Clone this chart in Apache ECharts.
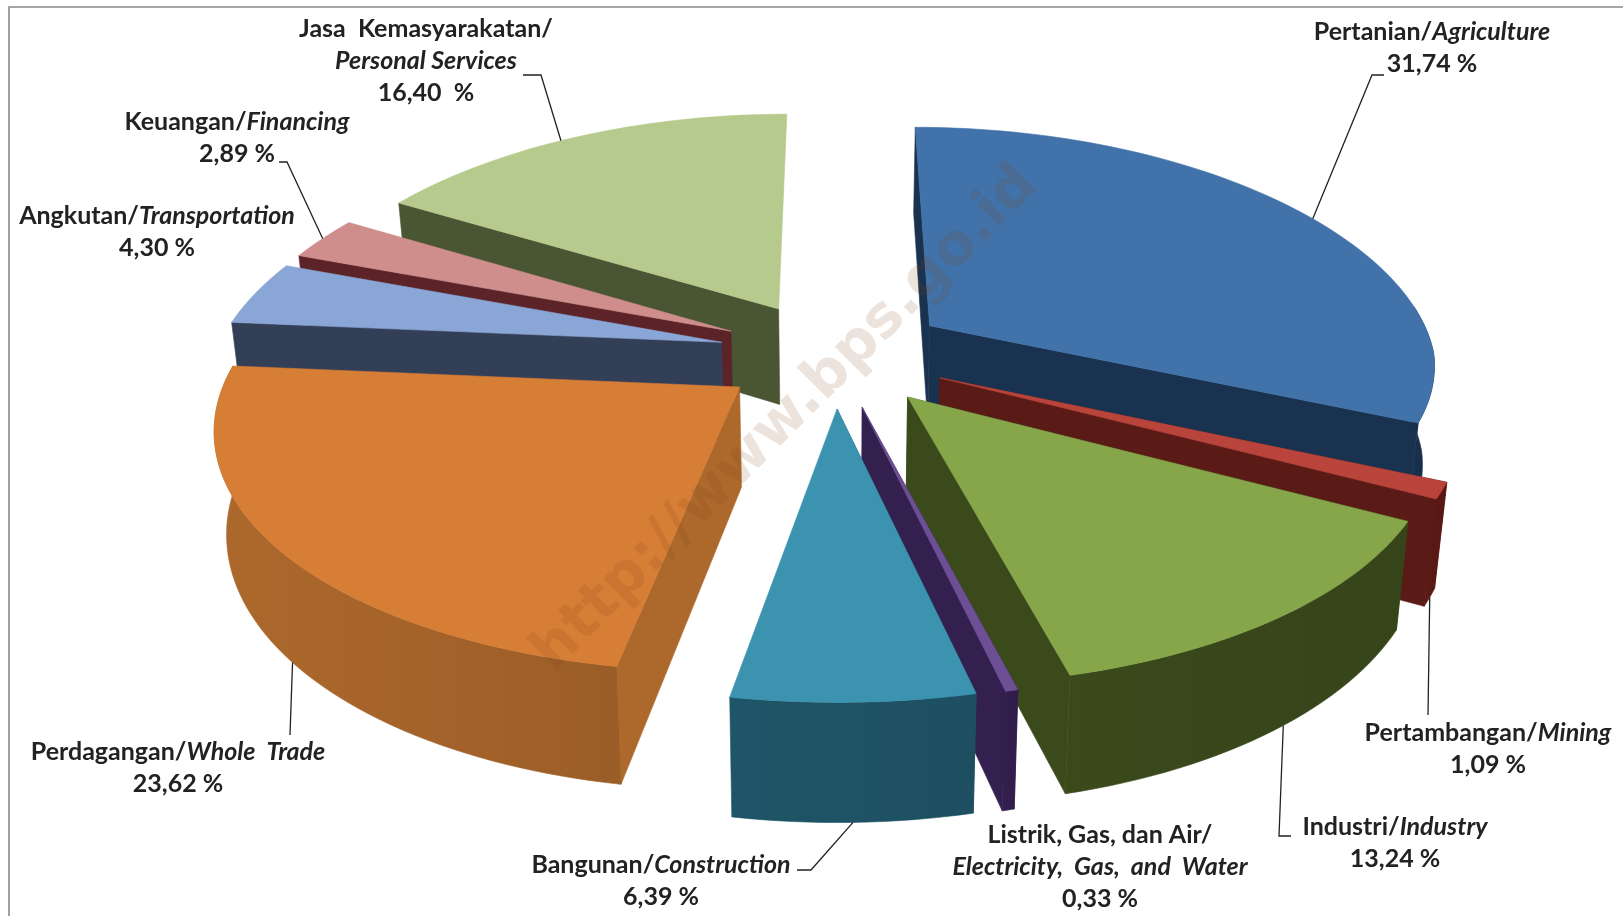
<!DOCTYPE html>
<html><head><meta charset="utf-8">
<style>html,body{margin:0;padding:0;background:#fff}#c{width:1623px;height:916px}</style>
<script src="https://cdn.jsdelivr.net/npm/echarts@6/dist/echarts.min.js"></script>
</head><body><div id="c"></div>
<script>
// ---- data
const sectorsId = ['Pertanian/','Pertambangan/','Industri/','Listrik, Gas, dan Air/','Bangunan/','Perdagangan/','Angkutan/','Keuangan/','Jasa  Kemasyarakatan/'];
const sectorsEn = ['Agriculture','Mining','Industry','Electricity,  Gas,  and  Water','Construction','Whole  Trade','Transportation','Financing','Personal Services'];
const shares = [31.74,1.09,13.24,0.33,6.39,23.62,4.30,2.89,16.40];
const shareLabels = ['31,74 %','1,09 %','13,24 %','0,33 %','6,39 %','23,62 %','4,30 %','2,89 %','16,40  %'];
// ---- styles
const topColors = ['#4172a9','#b8443c','#87a64a','#6d4f95','#3b93b0','#d67e36','#8aa6d6','#cf8e8c','#b5ca8c'];
const wallColors = ['#19324f','#5a1a15','#3b4a1b','#33204f','#1f5568','#ad692c','#333f57','#5c2329','#4a5633'];
const wallDark = ['#172c47','#571712','#36441a','#2f1c4a','#1d4f61','#9b5d27','#2f3a52','#552025','#465130'];
const drawOrder = [0,8,7,6,1,5,2,3,4];
const labelLayout = [
 {i:0,x:1432,y:32,own:false},{i:1,x:1488,y:733,own:false},{i:2,x:1395,y:827,own:false},
 {i:3,x:1100,y:835,own:true},{i:4,x:661,y:865,own:false},{i:5,x:178,y:752,own:false},
 {i:6,x:157,y:216,own:false},{i:7,x:237,y:122,own:false},{i:8,x:426,y:29,own:true}
];
const leaders = [
 {i:0,t:.52,bottom:false,pts:[[1372,75],[1384,75]]},
 {i:1,t:.5,bottom:true,pts:[[1428,715]]},
 {i:2,t:.47,bottom:true,pts:[[1279,836],[1291,836]]},
 {i:4,t:.5,bottom:true,pts:[[811,870],[797,870]]},
 {i:5,t:.49,bottom:true,pts:[[290,735]]},
 {i:7,t:.5,bottom:false,pts:[[287,162],[279,162]]},
 {i:8,t:.46,bottom:false,pts:[[541,75],[523,75]]}
];
// ---- projection
const CX=834,CY=354,A=506,B=231,KF=.15,KBX=.18,KBY=.13,E=.23,DEPTH=98,BOTX=.98;
const total=shares.reduce((a,b)=>a+b,0);
const rad=d=>d*Math.PI/180;
function sliceAngles(idx){let a=0;for(let j=0;j<idx;j++)a+=shares[j]/total*360;return [a,a+shares[idx]/total*360];}
function proj(u,v,bottom){
  const sx=1/(1-(v<0?KBX:KF)*v), sy=1/(1-(v<0?KBY:KF)*v);
  let x=CX+A*u*sx,y=CY+B*v*sy;
  if(bottom){x=CX+(x-CX)*BOTX;y+=DEPTH*sy;}
  return [x,y];
}
function offset(idx){const [a0,a1]=sliceAngles(idx);const m=rad((a0+a1)/2);return [E*Math.sin(m),-E*Math.cos(m)];}
function rim(idx,theta,bottom){const o=offset(idx);const t=rad(theta);return proj(o[0]+Math.sin(t),o[1]-Math.cos(t),bottom);}
function apex(idx,bottom){const o=offset(idx);return proj(o[0],o[1],bottom);}
function arcPts(idx,from,to,bottom){const n=Math.max(4,Math.ceil((to-from)/1.5));const p=[];for(let k=0;k<=n;k++)p.push(rim(idx,from+(to-from)*k/n,bottom));return p;}

function renderSlice(params,api){
  const idx=api.value(0);
  const [a0,a1]=sliceAngles(idx);
  const top=arcPts(idx,a0,a1,false);
  const A0=apex(idx,false),A1=apex(idx,true);
  const base=(params.dataIndex+1)*10;
  const wall=wallColors[idx];
  const wallFill={type:'linear',x:0,y:0,x2:1,y2:0,colorStops:[{offset:0,color:wall},{offset:1,color:wallDark[idx]}]};
  const poly=(pts,fill,z)=>({type:'polygon',shape:{points:pts},style:{fill,stroke:fill,lineWidth:.6},z2:base+z,silent:true});
  const kids=[poly([A0,rim(idx,a0,false),rim(idx,a0,true),A1],wall,0)];
  if(Math.sin(rad(a1))>.01) kids.push(poly([A0,rim(idx,a1,false),rim(idx,a1,true),A1],wall,1));
  const f=Math.max(a0,85),t=Math.min(a1,275);
  if(t>f){
    const ot=arcPts(idx,f,t,false),ob=arcPts(idx,f,t,true);
    kids.push(poly(ot.concat(ob.reverse()),wallFill,2));
  }
  kids.push(poly([A0].concat(top),topColors[idx],3));
  return {type:'group',children:kids};
}
const rich={b:{fontFamily:'Lato',fontWeight:'bold',fontSize:25,fill:'#222',lineHeight:32},i:{fontFamily:'Lato',fontWeight:'bold',fontStyle:'italic',fontSize:25,fill:'#222',lineHeight:32}};
const graphics=[
  {type:'polyline',shape:{points:[[9,916],[9,7],[1623,7]]},style:{stroke:'#8a8a8a',lineWidth:1.6,fill:null},z:1},
  {type:'text',x:786,y:419,rotation:Math.PI/4,z:20,silent:true,style:{text:'http://www.bps.go.id',font:'bold 58px "DejaVu Sans"',fill:'rgba(130,65,25,0.15)',align:'center',verticalAlign:'middle'}}
];
leaders.forEach(l=>{
  const [a0,a1]=sliceAngles(l.i);
  const st=rim(l.i,a0+(a1-a0)*l.t,l.bottom);
  graphics.push({type:'polyline',z:15,silent:true,shape:{points:[st].concat(l.pts)},style:{stroke:'#222',lineWidth:1.3,fill:null}});
});
labelLayout.forEach(l=>{
  const lines=l.own?[`{b|${sectorsId[l.i]}}`,`{i|${sectorsEn[l.i]}}`]:[`{b|${sectorsId[l.i]}}{i|${sectorsEn[l.i]}}`];
  lines.push(`{b|${shareLabels[l.i]}}`);
  graphics.push({type:'text',x:l.x,y:l.y-16,z:30,silent:true,style:{text:lines.join('\n'),rich,align:'center',verticalAlign:'top'}});
});
const chart=echarts.init(document.getElementById('c'),null,{renderer:'canvas',width:1623,height:916});
chart.setOption({
  animation:false,backgroundColor:'#fff',
  graphic:{elements:graphics},
  series:[{type:'custom',coordinateSystem:'none',renderItem:renderSlice,silent:true,
    data:drawOrder.map(i=>[i,shares[i]]),z:5}]
});
</script></body></html>
